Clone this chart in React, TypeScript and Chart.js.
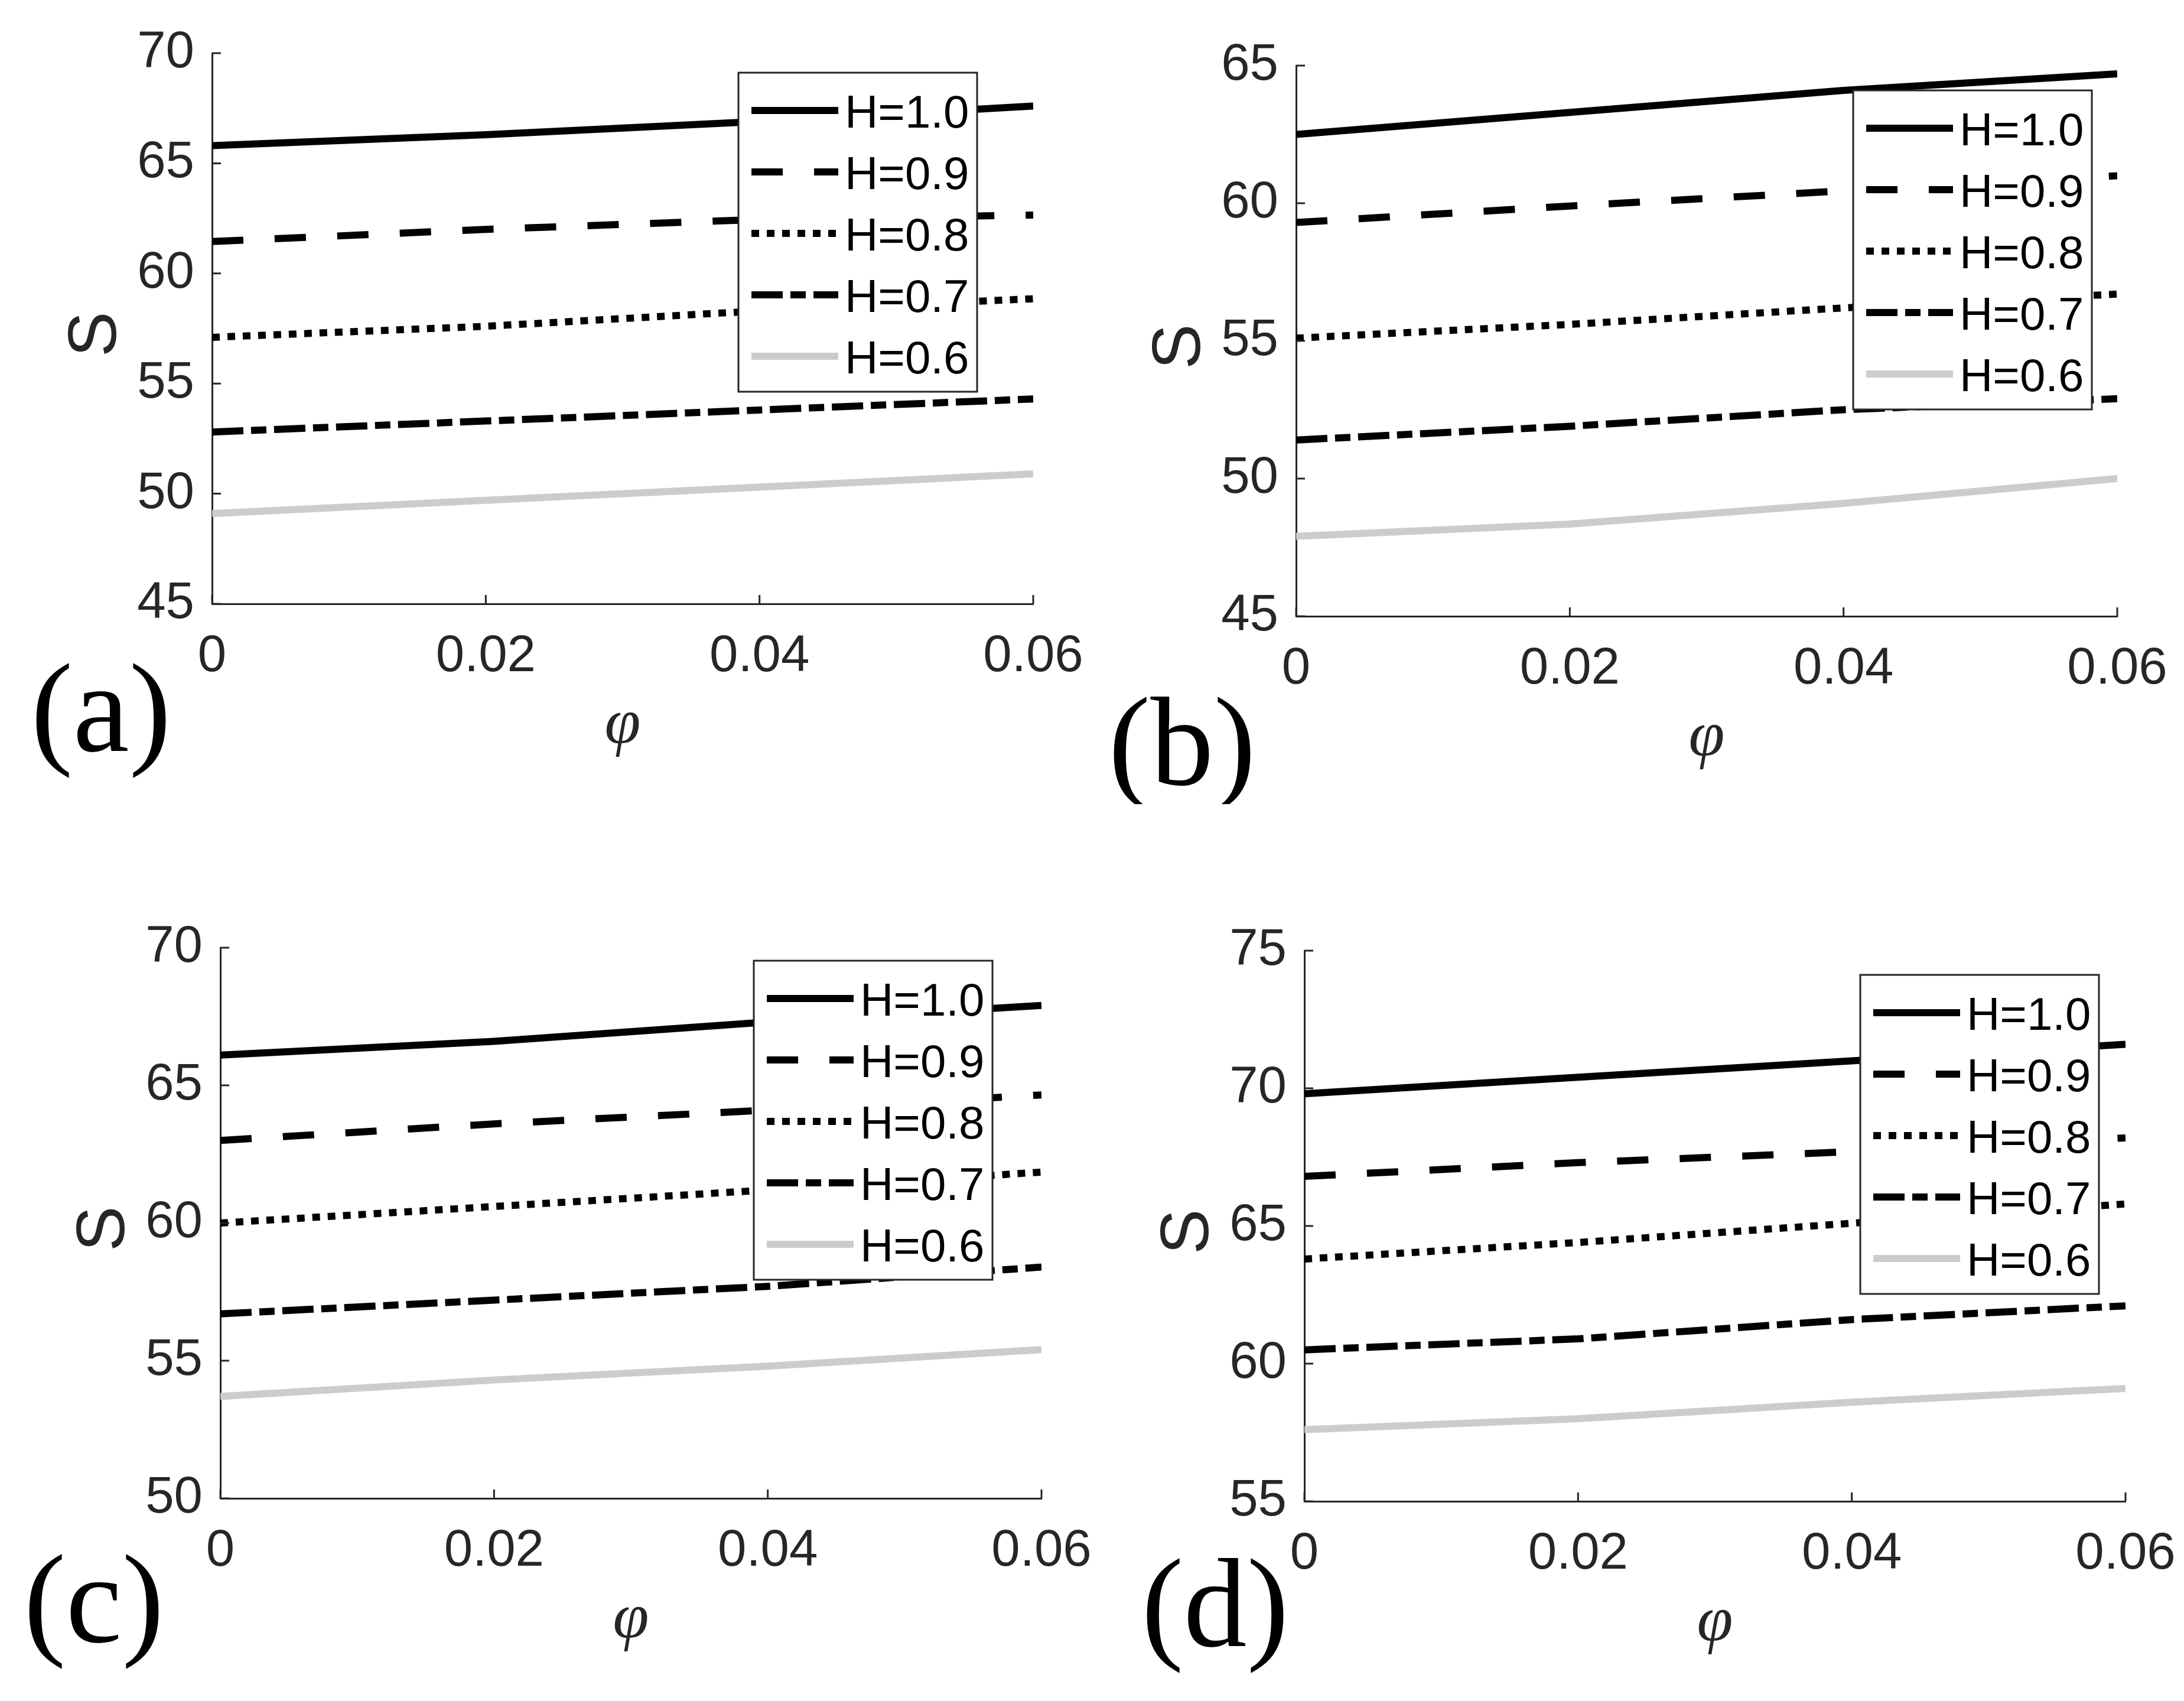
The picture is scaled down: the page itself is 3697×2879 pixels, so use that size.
import { Chart, registerables } from 'chart.js';
import { useEffect, useRef } from 'react';

Chart.register(...registerables);

// shared x values and legend labels
const phi = [0, 0.02, 0.04, 0.06];
const hLabels = ['H=1.0', 'H=0.9', 'H=0.8', 'H=0.7', 'H=0.6'];

// panel (a)
const aH10 = [65.8, 66.3, 66.9, 67.6];
const aH09 = [61.45, 62.0, 62.45, 62.65];
const aH08 = [57.1, 57.6, 58.3, 58.85];
const aH07 = [52.8, 53.3, 53.8, 54.3];
const aH06 = [49.1, 49.7, 50.3, 50.9];

// panel (b)
const bH10 = [62.5, 63.3, 64.1, 64.7];
const bH09 = [59.3, 59.9, 60.45, 61.0];
const bH08 = [55.1, 55.6, 56.2, 56.7];
const bH07 = [51.4, 51.9, 52.5, 52.9];
const bH06 = [47.9, 48.35, 49.1, 50.0];

// panel (c)
const cH10 = [66.1, 66.6, 67.3, 67.9];
const cH09 = [63.0, 63.6, 64.1, 64.65];
const cH08 = [60.0, 60.6, 61.2, 61.85];
const cH07 = [56.7, 57.2, 57.7, 58.4];
const cH06 = [53.7, 54.3, 54.8, 55.4];

// panel (d)
const dH10 = [69.8, 70.4, 71.0, 71.6];
const dH09 = [66.8, 67.3, 67.7, 68.2];
const dH08 = [63.8, 64.4, 65.1, 65.8];
const dH07 = [60.5, 60.9, 61.6, 62.1];
const dH06 = [57.6, 58.0, 58.6, 59.1];

// y axis ranges
const yRangeA = [45, 70];
const yRangeB = [45, 65];
const yRangeC = [50, 70];
const yRangeD = [55, 75];

const AXIS = '#262626';
const LW = 12;
const styles = [
   { color: '#000000', dash: [] as number[] },
   { color: '#000000', dash: [53, 53] },
   { color: '#000000', dash: [13, 13] },
   { color: '#000000', dash: [53, 13, 26, 13] },
   { color: '#cccccc', dash: [] as number[] },
];

// canvas geometry: chart area sits 360px in from the left and 90px down
const CW = 1850;
const CH = 1340;
const PLOT_W = 1390;
const PLOT_H = 932;
const PAD_L = 360;
const PAD_T = 90;

const inwardTicks = {
   id: 'inwardTicks',
   afterDraw(chart: any) {
      const { ctx, chartArea, scales } = chart;
      ctx.save();
      ctx.strokeStyle = AXIS;
      ctx.lineWidth = 3;
      ctx.setLineDash([]);
      ctx.beginPath();
      for (const t of scales.x.ticks) {
         const px = scales.x.getPixelForValue(t.value);
         ctx.moveTo(px, chartArea.bottom);
         ctx.lineTo(px, chartArea.bottom - 15);
      }
      for (const t of scales.y.ticks) {
         const py = scales.y.getPixelForValue(t.value);
         ctx.moveTo(chartArea.left, py);
         ctx.lineTo(chartArea.left + 15, py);
      }
      ctx.stroke();
      ctx.restore();
   },
};

const boxLegend = {
   id: 'boxLegend',
   afterDatasetsDraw(chart: any, _args: any, opts: any) {
      const { ctx, chartArea } = chart;
      const x = chartArea.left + opts.dx;
      const y = chartArea.top + opts.dy;
      const w = 404;
      const h = 540;
      ctx.save();
      ctx.fillStyle = '#ffffff';
      ctx.fillRect(x, y, w, h);
      ctx.strokeStyle = AXIS;
      ctx.lineWidth = 3;
      ctx.setLineDash([]);
      ctx.strokeRect(x, y, w, h);
      chart.data.datasets.forEach((ds: any, i: number) => {
         const ry = y + 64 + i * 104;
         ctx.beginPath();
         ctx.strokeStyle = ds.borderColor;
         ctx.lineWidth = LW;
         ctx.lineCap = 'butt';
         ctx.setLineDash(ds.borderDash || []);
         ctx.moveTo(x + 22, ry);
         ctx.lineTo(x + 169, ry);
         ctx.stroke();
         ctx.setLineDash([]);
         ctx.fillStyle = '#000000';
         ctx.font = '78px "Liberation Sans", Arial, sans-serif';
         ctx.textAlign = 'left';
         ctx.textBaseline = 'alphabetic';
         ctx.fillText(ds.label, x + 180, ry + 29);
      });
      ctx.restore();
   },
};

const axisTexts = {
   id: 'axisTexts',
   afterDraw(chart: any, _args: any, opts: any) {
      const { ctx, chartArea } = chart;
      const cx = (chartArea.left + chartArea.right) / 2;
      const cy = (chartArea.top + chartArea.bottom) / 2;
      ctx.save();
      ctx.fillStyle = AXIS;
      // y title "S", rotated
      ctx.font = '115px "Liberation Sans", Arial, sans-serif';
      ctx.textAlign = 'center';
      ctx.textBaseline = 'alphabetic';
      ctx.translate(chartArea.left - 204 + 41, cy + 10);
      ctx.rotate(-Math.PI / 2);
      ctx.fillText('S', 0, 0);
      ctx.setTransform(1, 0, 0, 1, 0, 0);
      // x title phi
      ctx.font = 'italic 110px "Liberation Serif", "Times New Roman", serif';
      ctx.fillText('φ', cx, chartArea.bottom + 222 + 14);
      // panel tag
      ctx.fillStyle = '#000000';
      ctx.font = '214px "Liberation Serif", "Times New Roman", serif';
      ctx.fillText(opts.tag, chartArea.left + opts.tx, chartArea.bottom + opts.ty + 52);
      ctx.restore();
   },
};

interface PanelProps {
   left: number;
   top: number;
   series: number[][];
   yRange: number[];
   legendDx: number;
   legendDy: number;
   tag: string;
   tagDx: number;
   tagDy: number;
}

function Panel({ left, top, series, yRange, legendDx, legendDy, tag, tagDx, tagDy }: PanelProps) {
   const chartRef = useRef<HTMLCanvasElement>(null);
   const chartInstance = useRef<Chart | null>(null);

   useEffect(() => {
      if (!chartRef.current) return;
      if (chartInstance.current) chartInstance.current.destroy();
      const ctx = chartRef.current.getContext('2d');
      if (!ctx) return;

      const tickFont = { family: '"Liberation Sans", Arial, sans-serif', size: 87 };

      chartInstance.current = new Chart(ctx, {
         type: 'line',
         data: {
            datasets: series.map((vals, i) => ({
               label: hLabels[i],
               data: phi.map((p, j) => ({ x: p, y: vals[j] })),
               borderColor: styles[i].color,
               borderDash: styles[i].dash,
               borderWidth: LW,
               borderCapStyle: 'butt' as const,
               pointRadius: 0,
               tension: 0,
               fill: false,
            })),
         },
         options: {
            animation: false,
            responsive: true,
            maintainAspectRatio: false,
            layout: { padding: { left: 0, top: PAD_T, right: CW - PAD_L - PLOT_W, bottom: 0 } },
            scales: {
               x: {
                  type: 'linear',
                  min: 0,
                  max: 0.06,
                  grid: { display: false, drawTicks: false },
                  border: { display: true, color: AXIS, width: 3 },
                  ticks: {
                     stepSize: 0.02,
                     autoSkip: false,
                     maxRotation: 0,
                     padding: 38,
                     color: AXIS,
                     font: tickFont,
                     callback: (v) => (Number(v) === 0 ? '0' : Number(v).toFixed(2)),
                  },
                  afterFit: (s: any) => {
                     s.height = CH - PAD_T - PLOT_H;
                     s.paddingLeft = 0;
                     s.paddingRight = 0;
                  },
               },
               y: {
                  min: yRange[0],
                  max: yRange[1],
                  grid: { display: false, drawTicks: false },
                  border: { display: true, color: AXIS, width: 3 },
                  ticks: {
                     stepSize: 5,
                     padding: 30,
                     color: AXIS,
                     font: tickFont,
                  },
                  afterFit: (s: any) => {
                     s.width = PAD_L;
                     s.paddingTop = 0;
                     s.paddingBottom = 0;
                  },
               },
            },
            plugins: {
               legend: { display: false },
               tooltip: { enabled: false },
               boxLegend: { dx: legendDx, dy: legendDy },
               axisTexts: { tag, tx: tagDx, ty: tagDy },
            } as any,
         },
         plugins: [boxLegend, inwardTicks, axisTexts],
      });

      return () => {
         if (chartInstance.current) {
            chartInstance.current.destroy();
            chartInstance.current = null;
         }
      };
   }, [series, yRange, legendDx, legendDy, tag, tagDx, tagDy]);

   return (
      <div style={{ position: 'absolute', left: left - PAD_L, top: top - PAD_T, width: CW, height: CH }}>
         <canvas ref={chartRef} />
      </div>
   );
}

const seriesA = [aH10, aH09, aH08, aH07, aH06];
const seriesB = [bH10, bH09, bH08, bH07, bH06];
const seriesC = [cH10, cH09, cH08, cH07, cH06];
const seriesD = [dH10, dH09, dH08, dH07, dH06];

export default function App() {
   return (
      <div
         style={{
            position: 'absolute',
            left: 0,
            top: 0,
            width: 3697,
            height: 2879,
            background: '#ffffff',
            overflow: 'hidden',
         }}
      >
         <Panel left={359} top={90} series={seriesA} yRange={yRangeA} legendDx={891} legendDy={33} tag="(a)" tagDx={-188} tagDy={197} />
         <Panel left={2194} top={111} series={seriesB} yRange={yRangeB} legendDx={943} legendDy={42} tag="(b)" tagDx={-193} tagDy={233} />
         <Panel left={373} top={1604} series={seriesC} yRange={yRangeC} legendDx={903} legendDy={22} tag="(c)" tagDx={-214} tagDy={191} />
         <Panel left={2208} top={1609} series={seriesD} yRange={yRangeD} legendDx={941} legendDy={41} tag="(d)" tagDx={-151} tagDy={193} />
      </div>
   );
}
